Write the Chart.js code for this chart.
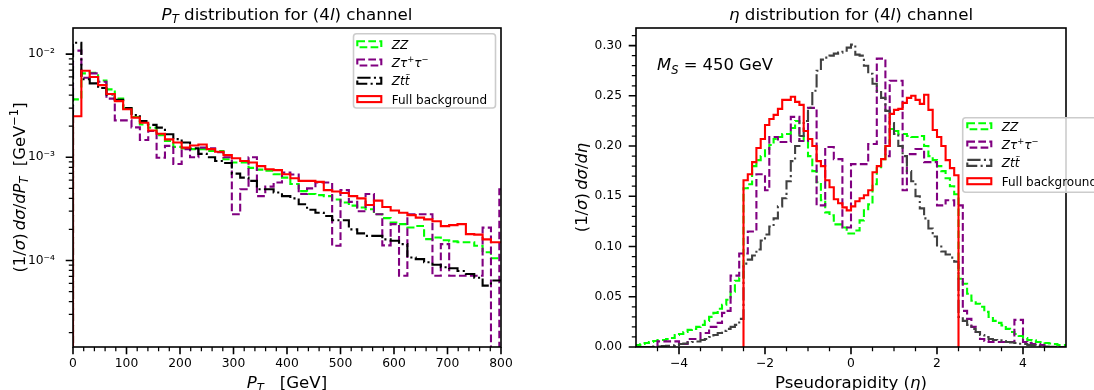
<!DOCTYPE html>
<html>
<head>
<meta charset="utf-8">
<script src="https://cdn.jsdelivr.net/npm/chart.js@4.4.1/dist/chart.umd.min.js"></script>
<style>
  html, body { margin: 0; padding: 0; background: #fff; }
  #wrap { position: relative; width: 1094px; height: 390px; overflow: hidden; }
  canvas { position: absolute; top: 0; }
  #ptChart { left: 0; }
  #etaChart { left: 547px; }
</style>
</head>
<body>
<div id="wrap">
  <canvas id="ptChart" width="547" height="390"></canvas>
  <canvas id="etaChart" width="547" height="390"></canvas>
</div>
<script>
// ---- P_T panel: bins of 15.625 GeV starting at 0 ----
const ptBinWidth = 15.625;
const ptZZ = [
  3.64e-3, 6.5e-3, 6.6e-3, 5.55e-3, 4.55e-3, 3.7e-3, 2.98e-3, 2.46e-3, 2.08e-3, 1.93e-3,
  1.64e-3, 1.44e-3, 1.26e-3, 1.22e-3, 1.2e-3, 1.2e-3, 1.15e-3, 1.15e-3, 0.956e-3, 0.89e-3,
  0.89e-3, 0.79e-3, 0.76e-3, 0.74e-3, 0.685e-3, 0.635e-3, 0.55e-3, 0.47e-3, 0.44e-3, 0.43e-3,
  0.42e-3, 0.39e-3, 0.365e-3, 0.34e-3, 0.326e-3, 0.314e-3, 0.28e-3, 0.257e-3, 0.233e-3, 0.225e-3,
  0.209e-3, 0.216e-3, 0.161e-3, 0.167e-3, 0.157e-3, 0.153e-3, 0.15e-3, 0.15e-3, 0.139e-3, 0.12e-3,
  0.105e-3, 0.105e-3
];
const ptZtautau = [
  1.08e-2, 5.9e-3, 6.5e-3, 5.4e-3, 3.7e-3, 2.28e-3, 2.28e-3, 1.95e-3, 1.47e-3, 1.8e-3,
  0.99e-3, 1.29e-3, 0.86e-3, 1.2e-3, 1.0e-3, 1.24e-3, 1.22e-3, 1.12e-3, 1.0e-3, 0.28e-3,
  0.49e-3, 1.0e-3, 0.42e-3, 0.52e-3, 0.57e-3, 0.71e-3, 0.68e-3, 0.44e-3, 0.5e-3, 0.57e-3,
  0.57e-3, 0.139e-3, 0.48e-3, 0.37e-3, 0.3e-3, 0.44e-3, 0.28e-3, 0.14e-3, 0.225e-3, 0.071e-3,
  0.28e-3, 0.28e-3, 0.28e-3, 0.071e-3, 0.144e-3, 0.071e-3, 0.071e-3, 0.071e-3, 0.071e-3, 0.208e-3,
  0, 0.49e-3
];
const ptZtt = [
  1.29e-2, 5.7e-3, 5.2e-3, 4.7e-3, 4.07e-3, 3.6e-3, 3.0e-3, 2.57e-3, 2.25e-3, 2.06e-3,
  1.94e-3, 1.67e-3, 1.5e-3, 1.39e-3, 1.22e-3, 1.08e-3, 1.0e-3, 0.92e-3, 0.88e-3, 0.695e-3,
  0.635e-3, 0.59e-3, 0.49e-3, 0.49e-3, 0.455e-3, 0.42e-3, 0.40e-3, 0.35e-3, 0.31e-3, 0.29e-3,
  0.27e-3, 0.245e-3, 0.245e-3, 0.2e-3, 0.183e-3, 0.173e-3, 0.173e-3, 0.16e-3, 0.155e-3, 0.144e-3,
  0.107e-3, 0.103e-3, 0.096e-3, 0.091e-3, 0.086e-3, 0.084e-3, 0.079e-3, 0.074e-3, 0.068e-3, 0.057e-3,
  0.064e-3, 0.064e-3
];
const ptFull = [
  2.5e-3, 6.9e-3, 6.0e-3, 5.0e-3, 4.1e-3, 3.5e-3, 2.92e-3, 2.42e-3, 2.16e-3, 1.82e-3,
  1.69e-3, 1.49e-3, 1.39e-3, 1.24e-3, 1.3e-3, 1.33e-3, 1.2e-3, 1.13e-3, 1.05e-3, 0.98e-3,
  0.92e-3, 0.89e-3, 0.82e-3, 0.765e-3, 0.75e-3, 0.685e-3, 0.626e-3, 0.59e-3, 0.59e-3, 0.577e-3,
  0.48e-3, 0.466e-3, 0.45e-3, 0.42e-3, 0.40e-3, 0.345e-3, 0.38e-3, 0.33e-3, 0.305e-3, 0.29e-3,
  0.275e-3, 0.26e-3, 0.25e-3, 0.24e-3, 0.215e-3, 0.22e-3, 0.225e-3, 0.18e-3, 0.178e-3, 0.16e-3,
  0.15e-3, 0.15e-3
];
const ptTicks = [0, 100, 200, 300, 400, 500, 600, 700, 800];
const ptLogTicks = [1e-4, 1e-3, 1e-2];

// ---- eta panel: bins of 0.1 starting at -5 ----
const etaBinWidth = 0.1;
const etaStart = -5;
const etaZZ = [
  0.002, 0.003, 0.004, 0.005, 0.006, 0.007, 0.007, 0.008, 0.009, 0.012,
  0.013, 0.015, 0.017, 0.018, 0.02, 0.022, 0.026, 0.03, 0.034, 0.038,
  0.042, 0.047, 0.055, 0.066, 0.069, 0.158, 0.162, 0.18, 0.186, 0.19,
  0.197, 0.201, 0.207, 0.209, 0.212, 0.212, 0.218, 0.225, 0.21, 0.205,
  0.19, 0.175, 0.164, 0.146, 0.134, 0.131, 0.122, 0.122, 0.119, 0.113,
  0.113, 0.116, 0.126, 0.136, 0.142, 0.162, 0.179, 0.187, 0.2, 0.217,
  0.215, 0.212, 0.212, 0.21, 0.209, 0.209, 0.21, 0.2, 0.19, 0.186,
  0.18, 0.175, 0.168, 0.16, 0.152, 0.068, 0.063, 0.053, 0.046, 0.043,
  0.04, 0.035, 0.03, 0.026, 0.024, 0.0215, 0.018, 0.015, 0.013, 0.011,
  0.009, 0.007, 0.0066, 0.005, 0.005, 0.004, 0.0035, 0.003, 0.002, 0.002
];
const etaZtautau = [
  0, 0, 0, 0, 0, 0.0056, 0.0056, 0.0056, 0.0056, 0.0056,
  0.003, 0.003, 0.008, 0.008, 0.008, 0.014, 0.014, 0.02, 0.02, 0.024,
  0.034, 0.036, 0.071, 0.071, 0.093, 0.093, 0.115, 0.115, 0.172, 0.172,
  0.156, 0.209, 0.209, 0.204, 0.204, 0.204, 0.229, 0.229, 0.205, 0.205,
  0.238, 0.238, 0.141, 0.141, 0.199, 0.199, 0.187, 0.187, 0.119, 0.119,
  0.182, 0.182, 0.182, 0.182, 0.202, 0.202, 0.287, 0.287, 0.19, 0.265,
  0.265, 0.265, 0.156, 0.192, 0.192, 0.197, 0.197, 0.184, 0.184, 0.184,
  0.141, 0.141, 0.146, 0.146, 0.141, 0.141, 0.036, 0.028, 0.02, 0.015,
  0.008, 0.006, 0.005, 0.005, 0.005, 0.005, 0.005, 0.005, 0.027, 0.027,
  0.005, 0.004, 0.003, 0.003, 0.002, 0, 0, 0, 0, 0
];
const etaZtt = [
  0, 0, 0, 0, 0.0005, 0.0005, 0.001, 0.0013, 0.0016, 0.002,
  0.003, 0.0035, 0.0045, 0.005, 0.0055, 0.007, 0.008, 0.01, 0.012, 0.014,
  0.016, 0.018, 0.02, 0.022, 0.028, 0.083, 0.087, 0.091, 0.097, 0.106,
  0.112, 0.12, 0.128, 0.14, 0.148, 0.165, 0.185, 0.2, 0.21, 0.225,
  0.238, 0.255, 0.275, 0.286, 0.288, 0.29, 0.292, 0.293, 0.295, 0.298,
  0.301, 0.291, 0.29, 0.28, 0.272, 0.262, 0.255, 0.248, 0.235, 0.223,
  0.212, 0.2, 0.19, 0.175, 0.165, 0.15, 0.138, 0.128, 0.118, 0.11,
  0.1, 0.095, 0.092, 0.089, 0.085, 0.03, 0.026, 0.022, 0.018, 0.015,
  0.012, 0.01, 0.008, 0.007, 0.0066, 0.006, 0.005, 0.0045, 0.004, 0.0033,
  0.003, 0.002, 0.0017, 0.001, 0.0007, 0.0005, 0.0003, 0.0003, 0, 0
];
// full background only covers |eta| < 2.5
const etaFullStart = -2.5;
const etaFull = [
  0.166, 0.172, 0.184, 0.198, 0.207, 0.221, 0.227, 0.231, 0.237, 0.246,
  0.246, 0.249, 0.244, 0.241, 0.215, 0.207, 0.2, 0.185, 0.18, 0.166,
  0.159, 0.147, 0.143, 0.139, 0.136, 0.14, 0.145, 0.148, 0.151, 0.156,
  0.174, 0.18, 0.187, 0.2, 0.232, 0.236, 0.237, 0.243, 0.248, 0.25,
  0.246, 0.242, 0.251, 0.236, 0.216, 0.209, 0.2, 0.186, 0.178, 0.171
];
const etaTicks = [-4, -2, 0, 2, 4];
const etaYTicks = [0, 0.05, 0.10, 0.15, 0.20, 0.25, 0.30];

const FAM = '"DejaVu Sans", sans-serif';
const GREEN = '#00ff00', PURPLE = '#800080', RED = '#ff0000';
const DASH = [7.7, 3.3];
const DASHDOT = [13.3, 3.3, 2.1, 3.3];
const LOG_FLOOR = 1e-8;

// step outline like matplotlib histtype='step'
function histPoints(start, width, values, floor) {
  const pts = [{ x: start, y: floor }];
  values.forEach((v, i) => pts.push({ x: start + i * width, y: v > 0 ? v : floor }));
  const end = start + values.length * width;
  const last = values[values.length - 1];
  pts.push({ x: end, y: last > 0 ? last : floor });
  pts.push({ x: end, y: floor });
  return pts;
}

function histSet(label, pts, color, dash, order) {
  return {
    label, data: pts, borderColor: color, borderWidth: 2.1, borderDash: dash,
    stepped: true, pointRadius: 0, fill: false, order, borderJoinStyle: 'miter'
  };
}

// text made of runs: [text, italic, scale, shift(em, +down)]
function richText(ctx, runs, x, y, size, align) {
  let w = 0;
  const parts = runs.map(r => {
    const t = r[0], it = r[1], sc = r[2] || 1, sh = r[3] || 0;
    const font = (it ? 'italic ' : '') + (size * sc).toFixed(2) + 'px ' + FAM;
    ctx.font = font;
    const pw = ctx.measureText(t).width;
    w += pw;
    return { t, font, pw, sh };
  });
  let cx = align === 'center' ? x - w / 2 : (align === 'right' ? x - w : x);
  ctx.textAlign = 'left';
  ctx.textBaseline = 'alphabetic';
  ctx.fillStyle = '#000';
  parts.forEach(p => {
    ctx.font = p.font;
    ctx.fillText(p.t, cx, y + p.sh * size);
    cx += p.pw;
  });
}

function rotatedText(ctx, runs, x, y, size) {
  ctx.save();
  ctx.translate(x, y);
  ctx.rotate(-Math.PI / 2);
  richText(ctx, runs, 0, 0, size, 'center');
  ctx.restore();
}

function tickMarks(ctx, chart, axis, values, len, width) {
  const a = chart.chartArea, s = chart.scales[axis];
  ctx.lineWidth = width;
  ctx.strokeStyle = '#000';
  ctx.setLineDash([]);
  ctx.beginPath();
  values.forEach(v => {
    const p = s.getPixelForValue(v);
    if (axis === 'x') { ctx.moveTo(p, a.bottom); ctx.lineTo(p, a.bottom + len); }
    else { ctx.moveTo(a.left, p); ctx.lineTo(a.left - len, p); }
  });
  ctx.stroke();
}

function frame(ctx, a) {
  ctx.lineWidth = 1.6;
  ctx.strokeStyle = '#000';
  ctx.setLineDash([]);
  ctx.strokeRect(a.left, a.top, a.right - a.left, a.bottom - a.top);
}

function roundBox(ctx, x, y, w, h, r) {
  ctx.beginPath();
  ctx.moveTo(x + r, y);
  ctx.lineTo(x + w - r, y);
  ctx.arcTo(x + w, y, x + w, y + r, r);
  ctx.lineTo(x + w, y + h - r);
  ctx.arcTo(x + w, y + h, x + w - r, y + h, r);
  ctx.lineTo(x + r, y + h);
  ctx.arcTo(x, y + h, x, y + h - r, r);
  ctx.lineTo(x, y + r);
  ctx.arcTo(x, y, x + r, y, r);
  ctx.closePath();
}

function legendRows(zttColor) {
  return [
    { color: GREEN, dash: DASH, runs: [['ZZ', 1]] },
    { color: PURPLE, dash: DASH, runs: [['Z\u03c4', 1], ['+', 0, 0.7, -0.42], ['\u03c4', 1], ['\u2212', 0, 0.7, -0.42]] },
    { color: zttColor, dash: DASHDOT, runs: [['Ztt\u0303', 1]] },
    { color: RED, dash: [], runs: [['Full background']] }
  ];
}

function drawLegend(ctx, box, rows) {
  roundBox(ctx, box.x, box.y, box.w, box.h, 3);
  ctx.fillStyle = 'rgba(255,255,255,0.8)';
  ctx.fill();
  ctx.lineWidth = 1.6;
  ctx.strokeStyle = '#cccccc';
  ctx.setLineDash([]);
  ctx.stroke();
  rows.forEach((r, k) => {
    const cy = box.row0 + k * 18.3;
    ctx.strokeStyle = r.color;
    ctx.lineWidth = 2.1;
    ctx.setLineDash(r.dash);
    ctx.strokeRect(box.hx, cy - 3, 24, 6);
    ctx.setLineDash([]);
    richText(ctx, r.runs, box.tx, cy + 4.4, 12, 'left');
  });
}

function decor(draw) {
  return { id: 'decor', afterDraw(chart) { const ctx = chart.ctx; ctx.save(); draw(chart, ctx); ctx.restore(); } };
}

const SUP = { '-': '\u207b', '0': '\u2070', '1': '\u00b9', '2': '\u00b2', '3': '\u00b3', '4': '\u2074', '5': '\u2075' };
function powLabel(v) {
  const e = String(Math.round(Math.log10(v)));
  return '10' + e.split('').map(c => SUP[c]).join('');
}
function minusLabel(v) {
  return v < 0 ? '\u2212' + Math.abs(v) : String(v);
}

function baseOptions(padding) {
  return {
    responsive: false, animation: false, devicePixelRatio: 1, events: [],
    layout: { padding },
    plugins: { legend: { display: false }, tooltip: { enabled: false }, title: { display: false } },
    elements: { point: { radius: 0 }, line: { tension: 0 } }
  };
}

function axisCommon(extra) {
  return Object.assign({
    grid: { display: false, drawTicks: false },
    border: { display: false }
  }, extra);
}

// ---------- left chart ----------
const ptOpts = baseOptions({ left: 0, right: 46, top: 28, bottom: 0 });
ptOpts.scales = {
  x: axisCommon({
    type: 'linear', min: 0, max: 800,
    afterFit: s => { s.height = 43; },
    afterBuildTicks: s => { s.ticks = ptTicks.map(v => ({ value: v })); },
    ticks: { font: { family: FAM, size: 12.3 }, color: '#000', padding: 9, maxRotation: 0, minRotation: 0, autoSkip: false, callback: v => String(v) }
  }),
  y: axisCommon({
    type: 'logarithmic', min: 1.45e-5, max: 0.0179,
    afterFit: s => { s.width = 73; },
    afterBuildTicks: s => { s.ticks = ptLogTicks.map(v => ({ value: v })); },
    ticks: { font: { family: FAM, size: 12.3 }, color: '#000', padding: 18, autoSkip: false, callback: v => powLabel(v) }
  })
};

new Chart(document.getElementById('ptChart'), {
  type: 'line',
  data: {
    datasets: [
      histSet('ZZ', histPoints(0, ptBinWidth, ptZZ, LOG_FLOOR), GREEN, DASH, 3),
      histSet('Ztautau', histPoints(0, ptBinWidth, ptZtautau, LOG_FLOOR), PURPLE, DASH, 2),
      histSet('Ztt', histPoints(0, ptBinWidth, ptZtt, LOG_FLOOR), '#000000', DASHDOT, 1),
      histSet('Full background', histPoints(0, ptBinWidth, ptFull, LOG_FLOOR), RED, [], 0)
    ]
  },
  options: ptOpts,
  plugins: [decor((chart, ctx) => {
    const a = chart.chartArea, ys = chart.scales.y;
    const minorX = [];
    for (let v = 20; v < 800; v += 20) if (v % 100) minorX.push(v);
    tickMarks(ctx, chart, 'x', minorX, 4.2, 1.25);
    tickMarks(ctx, chart, 'x', ptTicks, 7.3, 1.6);
    const minorY = [];
    for (let e = -5; e <= -2; e++) for (let m = 2; m <= 9; m++) {
      const v = m * Math.pow(10, e);
      if (v > ys.min && v < ys.max) minorY.push(v);
    }
    tickMarks(ctx, chart, 'y', minorY, 4.2, 1.25);
    tickMarks(ctx, chart, 'y', ptLogTicks, 7.3, 1.6);
    frame(ctx, a);
    const cx = (a.left + a.right) / 2;
    richText(ctx, [['P', 1], ['T', 1, 0.7, 0.22], [' distribution for (4'], ['l', 1], [') channel']], cx, 19.7, 16.7, 'center');
    richText(ctx, [['P', 1], ['T', 1, 0.7, 0.22], ['   [GeV]']], cx, 388, 16.6, 'center');
    rotatedText(ctx, [['(1/'], ['\u03c3', 1], [')\u2009'], ['d\u03c3', 1], ['/'], ['dP', 1], ['T', 1, 0.7, 0.22],
      ['  [GeV'], ['\u22121', 0, 0.7, -0.42], [']']], 24.5, (a.top + a.bottom) / 2, 16.4);
    drawLegend(ctx, { x: 353.5, y: 33.7, w: 142, h: 74.3, hx: 357.3, tx: 391.7, row0: 44.2 }, legendRows('#000000'));
  })]
});

// ---------- right chart ----------
const etaOpts = baseOptions({ left: 0, right: 28, top: 28, bottom: 0 });
etaOpts.scales = {
  x: axisCommon({
    type: 'linear', min: -5, max: 5,
    afterFit: s => { s.height = 43; },
    afterBuildTicks: s => { s.ticks = etaTicks.map(v => ({ value: v })); },
    ticks: { font: { family: FAM, size: 12.3 }, color: '#000', padding: 9, maxRotation: 0, minRotation: 0, autoSkip: false, callback: v => minusLabel(v) }
  }),
  y: axisCommon({
    type: 'linear', min: 0, max: 0.3175,
    afterFit: s => { s.width = 89; },
    afterBuildTicks: s => { s.ticks = etaYTicks.map(v => ({ value: v })); },
    ticks: { font: { family: FAM, size: 12.3 }, color: '#000', padding: 14, autoSkip: false, callback: v => v.toFixed(2) }
  })
};

new Chart(document.getElementById('etaChart'), {
  type: 'line',
  data: {
    datasets: [
      histSet('ZZ', histPoints(etaStart, etaBinWidth, etaZZ, 0), GREEN, DASH, 3),
      histSet('Ztautau', histPoints(etaStart, etaBinWidth, etaZtautau, 0), PURPLE, DASH, 2),
      histSet('Ztt', histPoints(etaStart, etaBinWidth, etaZtt, 0), '#404040', DASHDOT, 1),
      histSet('Full background', histPoints(etaFullStart, etaBinWidth, etaFull, 0), RED, [], 0)
    ]
  },
  options: etaOpts,
  plugins: [decor((chart, ctx) => {
    const a = chart.chartArea;
    const minorX = [];
    for (let k = -9; k <= 9; k++) if (k % 4) minorX.push(k * 0.5);
    tickMarks(ctx, chart, 'x', minorX, 4.2, 1.25);
    tickMarks(ctx, chart, 'x', etaTicks, 7.3, 1.6);
    const minorY = [];
    for (let k = 1; k <= 31; k++) if (k % 5) minorY.push(k * 0.01);
    tickMarks(ctx, chart, 'y', minorY, 4.2, 1.25);
    tickMarks(ctx, chart, 'y', etaYTicks, 7.3, 1.6);
    frame(ctx, a);
    const cx = (a.left + a.right) / 2;
    richText(ctx, [['\u03b7', 1], [' distribution for (4'], ['l', 1], [') channel']], cx, 19.7, 16.7, 'center');
    richText(ctx, [['Pseudorapidity ('], ['\u03b7', 1], [')']], cx, 388, 16.6, 'center');
    rotatedText(ctx, [['(1/'], ['\u03c3', 1], [')\u2009'], ['d\u03c3', 1], ['/'], ['d\u03b7', 1]], 40, (a.top + a.bottom) / 2, 16.4);
    richText(ctx, [['M', 1], ['S', 1, 0.7, 0.22], [' = 450 GeV']], 110, 70, 16.4, 'left');
    drawLegend(ctx, { x: 415.7, y: 117.7, w: 200, h: 74.5, hx: 420.3, tx: 454.7, row0: 126.3 }, legendRows('#404040'));
  })]
});
</script>
</body>
</html>
